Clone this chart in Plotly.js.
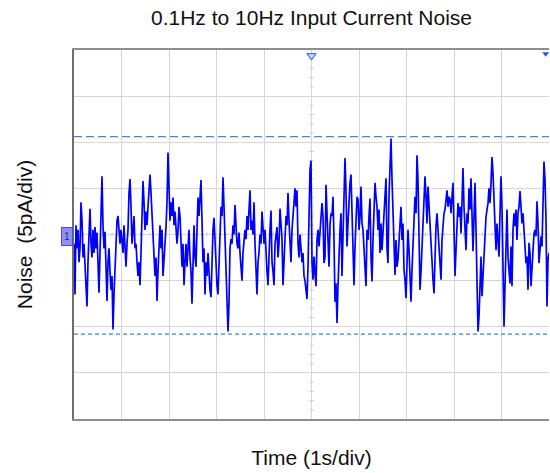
<!DOCTYPE html>
<html>
<head>
<meta charset="utf-8">
<script src="https://cdn.plot.ly/plotly-3.0.1.min.js"></script>
<style>
html,body{margin:0;padding:0;background:#fff;}
#chart{width:550px;height:473px;}
</style>
</head>
<body>
<div id="chart"></div>
<script>
// Noise samples in pA (0 s .. 10 s, uniform sampling)
var noiseSeg1 = [
-1.0,-6.5,1.0,-1.5,0.5,-3.0,-1.5,3.5,1.5,-2.5,-1.0,-4.0,-6.0,-7.8,-3.0,0.5,2.8,-1.0,-2.5,0.5,
-2.0,0.8,-1.5,0.2,-3.5,-6.3,-2.0,2.5,6.3,1.0,-1.5,0.3,-4.5,-7.2,-3.0,-1.5,-4.0,-6.0,-4.5,-10.3,
-6.5,-3.0,-1.0,1.5,2.0,0.0,-1.0,0.5,-0.5,-2.0,1.0,-2.5,-3.5,-1.0,0.5,4.5,6.0,3.0,-1.0,0.5,
2.0,-1.5,-1.0,-3.0,-4.5,-3.0,-5.5,-2.0,2.0,5.8,3.5,0.5,2.5,1.0,3.0,5.0,6.5,4.5,2.5,0.5,
-1.5,-4.5,-2.5,-7.2,-4.0,-1.0,1.0,-1.5,0.5,-4.5,-2.0,-1.0,0.8,3.5,8.9,5.0,1.5,3.5,2.0,4.0,
1.0,2.5,0.0,-1.0,0.5,3.0,2.0,-1.5,-3.5,-1.0,-5.5,-3.0,-1.0,-3.5,-1.5,0.5,-2.5,-4.0,-7.5,-1.0
];
var noiseSeg2 = [
1.0,-2.5,-3.5,0.5,4.0,2.0,4.5,5.9,1.5,-3.0,-1.5,-6.5,-3.0,-4.5,-2.0,-4.5,-6.0,-6.8,-2.5,0.5,
1.8,-1.0,-4.0,-5.5,-6.5,-3.5,0.0,3.0,2.0,6.2,3.0,0.0,-3.5,-6.0,-10.5,-7.5,-1.5,-0.5,-1.0,1.0,
0.0,3.2,1.0,-1.0,-1.5,0.2,-2.0,-3.5,-5.0,-2.0,-1.0,0.5,-0.5,2.0,0.5,2.5,4.8,0.5,1.5,0.0,
3.5,-1.0,-3.5,-6.5,-3.0,-2.0,0.0,-1.0,2.5,0.5,-1.0,0.5,-3.0,-4.0,-5.5,-1.5,0.5,2.6,-3.0,-4.0,
-5.5,-1.0,0.0,0.8,-2.5,-1.0,2.8,1.0,-0.5,-5.5,-2.5,-0.5,2.0,1.0,4.5,1.5,-1.0,-3.0,0.5,2.5,
3.5,5.0,3.0,4.8,-1.0,-2.5,0.0,-1.5,-3.0,-2.0,-4.5,-5.0,-6.0,-7.0,-3.5,2.0,7.0,8.0
];
var noiseSeg3 = [
-3.0,-4.9,-2.4,-4.2,-5.6,-0.6,0.5,-1.3,0.1,2.0,3.4,1.9,-3.1,-2.4,5.4,2.3,-0.6,-3.5,1.0,2.3,
2.0,4.1,-0.6,-7.3,-5.3,-9.6,-5.6,-1.3,0.5,2.3,-4.5,-0.2,5.6,8.3,4.8,-1.3,1.2,4.1,5.6,6.5,
2.7,-1.5,-5.5,-1.3,2.5,4.1,3.8,0.5,1.9,5.2,1.2,0.5,-1.5,-3.1,-5.6,0.5,-0.6,2.0,3.9,-2.4,
-5.1,-0.6,4.0,5.6,4.1,3.0,0.5,2.7,-2.0,1.2,-1.7,0.5,2.3,4.8,6.1,-1.5,-3.1,4.1,8.5,10.4,
6.0,2.3,-1.3,-4.4,-0.6,-3.5,-2.7,-0.2,2.3,3.0,-0.6,1.2,-3.8,-4.9,-6.9,-3.5,0.5,-1.7,-4.9,-7.3,
-3.8,-0.6,0.5,4.1,2.3,8.6,5.9,1.2,-6.0,-4.0,-1.3,2.3,3.8,6.3,4.1,1.2,5.2,3.0
];
var noiseSeg4 = [
0.5,-0.9,-3.1,-4.9,-6.4,-2.4,0.9,2.3,0.5,-1.3,-3.1,-4.9,-0.6,1.6,2.3,2.7,4.1,4.8,3.0,4.1,
3.8,2.3,4.1,5.6,0.5,-4.5,-1.7,0.5,3.4,1.9,3.0,0.1,5.2,7.2,3.0,-0.2,-1.7,2.3,1.2,5.0,
2.7,6.1,0.5,-1.8,1.9,5.6,0.5,-7.4,-10.5,-8.9,-5.6,-2.4,-6.7,-4.2,-2.4,0.5,1.9,2.7,3.4,5.0,
3.4,5.6,8.4,6.6,3.0,-0.2,-1.7,1.2,-1.3,-2.4,2.3,6.3,3.0,-3.5,-10.0,-5.6,-1.3,2.7,-2.4,-4.2,
-5.3,-1.3,-5.6,0.5,2.3,0.9,2.7,-0.6,2.3,3.0,4.7,3.0,1.2,2.3,0.5,-1.3,-3.1,-2.4,-6.0,-0.9,
-2.0,-5.6,-3.1,-0.6,0.1,0.5,-0.2,3.6,1.2,-3.1,-1.7,-0.2,-1.3,2.3,7.9,5.9,1.6,-7.8,-2.7,-2.0
];
var timeSpan = 10;          // s, 10 divisions of 1 s
var cursorHigh = 10.6;      // pA
var cursorLow = -10.8;      // pA
var titleText = '0.1Hz to 10Hz Input Current Noise';
var xLabel = 'Time (1s/div)';
var yLabel = 'Noise\u00a0\u00a0(5pA/div)';

var noise = noiseSeg1.concat(noiseSeg2, noiseSeg3, noiseSeg4);
var dt = timeSpan / (noise.length - 1);
var time = noise.map(function (_, i) { return i * dt; });

var shapes = [
  {type:'line', xref:'paper', x0:0, x1:1, yref:'y', y0:cursorHigh, y1:cursorHigh,
   line:{color:'#3f86e8', width:1.2, dash:'8px,4px'}},
  {type:'line', xref:'paper', x0:0, x1:1, yref:'y', y0:cursorLow, y1:cursorLow,
   line:{color:'#2f86f0', width:1.2, dash:'4px,3px'}}
];
// minor ticks on the centre cross
for (var k = -20; k <= 20; k++) {
  if (k % 5 === 0) continue;
  shapes.push({type:'line', xref:'x', yref:'y', x0:4.955, x1:5.045, y0:k, y1:k,
    line:{color:'#c8c8c8', width:1}, layer:'below'});
}
for (var m = 1; m < 50; m++) {
  if (m % 5 === 0) continue;
  var tx = m * 0.2;
  shapes.push({type:'line', xref:'x', yref:'y', x0:tx, x1:tx, y0:-0.22, y1:0.22,
    line:{color:'#c8c8c8', width:1}, layer:'below'});
}

var traces = [
  {x: time, y: noise, type:'scatter', mode:'lines',
   line:{color:'#0000ff', width:1.7}, hoverinfo:'skip', showlegend:false},
  {x:[5], y:[19.4], type:'scatter', mode:'markers', cliponaxis:false,
   marker:{symbol:'triangle-down', size:8, color:'#cfe0ff', line:{color:'#3a7be0', width:1.2}},
   hoverinfo:'skip', showlegend:false},
  {x:[9.93], y:[19.6], type:'scatter', mode:'markers', cliponaxis:false,
   marker:{symbol:'triangle-down', size:6, color:'#1a5fe0'},
   hoverinfo:'skip', showlegend:false}
];

var layout = {
  width:550, height:473,
  margin:{l:74, r:1, t:50, b:54, pad:0},
  paper_bgcolor:'#ffffff', plot_bgcolor:'#ffffff',
  font:{family:'Liberation Sans, Arial, sans-serif', color:'#000000'},
  title:{text:titleText, font:{size:21, color:'#111111'}, xref:'paper', x:0.5, xanchor:'center',
         yref:'container', y:1 - 18/473, yanchor:'middle'},
  xaxis:{range:[0, timeSpan], dtick:1, tick0:0, showticklabels:false, ticks:'',
         showgrid:true, gridcolor:'#d6d6d6', gridwidth:1, zeroline:false,
         showline:true, linecolor:'#8e8e8e', linewidth:2, mirror:true, fixedrange:true,
         title:{text:xLabel, font:{size:21, color:'#111111'}, standoff:30}},
  yaxis:{range:[-20, 20], dtick:5, tick0:0, showticklabels:false, ticks:'',
         showgrid:true, gridcolor:'#d6d6d6', gridwidth:1, zeroline:false,
         showline:true, linecolor:'#6e6e6e', linewidth:2, mirror:false, fixedrange:true,
         title:{text:yLabel, font:{size:21, color:'#111111'}, standoff:34}},
  shapes:shapes,
  annotations:[
    {xref:'paper', yref:'y', x:-0.0145, y:-0.2, text:'1', showarrow:false,
     font:{size:10, color:'#2020a0'}, bgcolor:'#9090f4', bordercolor:'#4a4ad8',
     borderwidth:1, borderpad:1, width:8, height:15, xanchor:'center', yanchor:'middle'}
  ],
  showlegend:false
};

Plotly.newPlot('chart', traces, layout, {displayModeBar:false, staticPlot:true});
</script>
</body>
</html>
